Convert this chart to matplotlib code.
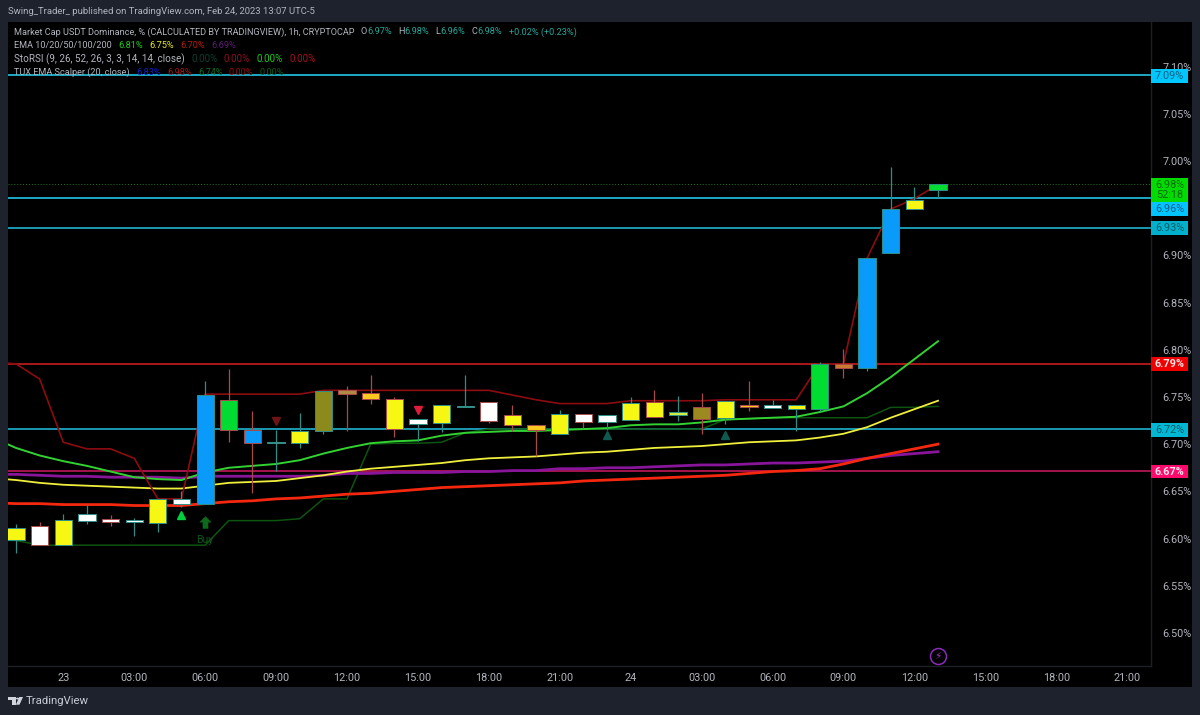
import matplotlib
matplotlib.use("Agg")
import matplotlib.pyplot as plt
from matplotlib.patches import Rectangle, Polygon, Circle

plt.rcParams['font.family'] = ['Roboto', 'DejaVu Sans']

# hours counted from Feb 23 00:00
hours = list(range(-2, 38))
opens = [6.598, 6.613, 6.593, 6.619, 6.621, 6.618, 6.616, 6.637, 6.637, 6.747,
         6.715, 6.701, 6.701, 6.714, 6.757, 6.754, 6.748, 6.721, 6.722, 6.739,
         6.745, 6.731, 6.720, 6.711, 6.732, 6.724, 6.726, 6.745, 6.731, 6.739,
         6.728, 6.742, 6.738, 6.737, 6.737, 6.785, 6.781, 6.902, 6.949, 6.969]
closes = [6.611, 6.593, 6.620, 6.626, 6.618, 6.620, 6.642, 6.642, 6.752, 6.715,
          6.701, 6.702, 6.714, 6.756, 6.753, 6.748, 6.716, 6.727, 6.742, 6.740,
          6.725, 6.720, 6.715, 6.732, 6.724, 6.731, 6.744, 6.729, 6.734, 6.727,
          6.746, 6.739, 6.741, 6.742, 6.785, 6.781, 6.897, 6.949, 6.959, 6.976]
highs = [6.615, 6.618, 6.626, 6.636, 6.625, 6.622, 6.642, 6.650, 6.767, 6.780,
         6.735, 6.715, 6.733, 6.756, 6.762, 6.773, 6.750, 6.727, 6.742, 6.773,
         6.745, 6.741, 6.720, 6.736, 6.732, 6.731, 6.750, 6.757, 6.751, 6.754,
         6.746, 6.767, 6.747, 6.742, 6.787, 6.801, 6.897, 6.994, 6.972, 6.976]
lows = [6.585, 6.593, 6.593, 6.615, 6.613, 6.603, 6.607, 6.633, 6.637, 6.702,
        6.648, 6.672, 6.696, 6.711, 6.714, 6.743, 6.708, 6.703, 6.713, 6.739,
        6.722, 6.714, 6.687, 6.711, 6.717, 6.715, 6.726, 6.729, 6.725, 6.711,
        6.721, 6.735, 6.738, 6.714, 6.735, 6.770, 6.778, 6.902, 6.949, 6.961]
Y = "#f7f714"
W = "#ffffff"
B = "#0a9bfa"
G = "#00dc32"
OL = "#8c8a1c"
OR = "#ffc81e"
body_colors = [Y, W, Y, W, W, W, Y, W, B, G,
               B, W, Y, OL, "#b08a40", OR, Y, W, Y, W,
               W, Y, OR, Y, W, W, Y, Y, "#d0ee40", "#9c8a20",
               Y, OR, W, Y, G, "#c87a30", B, B, Y, G]

# indicator lines start one hour earlier, off the left edge
line_hours = list(range(-3, 38))
ema_green = [6.707, 6.696, 6.688, 6.682, 6.677, 6.671, 6.665, 6.663, 6.662, 6.670, 6.675,
             6.677, 6.679, 6.683, 6.690, 6.696, 6.701, 6.703, 6.704, 6.709, 6.712,
             6.713, 6.714, 6.714, 6.715, 6.716, 6.717, 6.720, 6.721, 6.721, 6.723,
             6.726, 6.727, 6.728, 6.729, 6.734, 6.740, 6.754, 6.771, 6.790, 6.809]
ema_yellow = [6.664, 6.662, 6.659, 6.657, 6.656, 6.655, 6.654, 6.653, 6.653, 6.656, 6.659,
              6.660, 6.661, 6.664, 6.667, 6.671, 6.674, 6.676, 6.678, 6.680, 6.683,
              6.685, 6.686, 6.687, 6.689, 6.691, 6.692, 6.694, 6.696, 6.697, 6.698,
              6.700, 6.702, 6.703, 6.704, 6.707, 6.711, 6.718, 6.728, 6.737, 6.746]
ema_red = [6.638, 6.637, 6.637, 6.636, 6.636, 6.636, 6.635, 6.635, 6.635, 6.637, 6.639,
           6.640, 6.642, 6.643, 6.645, 6.647, 6.648, 6.650, 6.652, 6.654, 6.655,
           6.656, 6.657, 6.658, 6.659, 6.661, 6.662, 6.663, 6.664, 6.665, 6.666,
           6.667, 6.669, 6.671, 6.672, 6.674, 6.679, 6.685, 6.690, 6.695, 6.700]
ema_purple = [6.668, 6.668, 6.667, 6.666, 6.666, 6.665, 6.665, 6.665, 6.664, 6.666, 6.666,
              6.666, 6.666, 6.666, 6.667, 6.669, 6.669, 6.670, 6.670, 6.670, 6.671,
              6.671, 6.672, 6.672, 6.674, 6.674, 6.675, 6.675, 6.676, 6.677, 6.678,
              6.678, 6.679, 6.680, 6.680, 6.681, 6.682, 6.685, 6.688, 6.690, 6.692]
tux_upper = [6.787, 6.785, 6.769, 6.702, 6.695, 6.695, 6.685, 6.642, 6.642, 6.753, 6.753,
             6.753, 6.753, 6.753, 6.757, 6.757, 6.757, 6.757, 6.757, 6.757, 6.757,
             6.757, 6.752, 6.747, 6.743, 6.743, 6.743, 6.746, 6.746, 6.746, 6.746,
             6.747, 6.747, 6.747, 6.747, 6.785, 6.785, 6.897, 6.949, 6.960, 6.975]
tux_lower = [6.598, 6.598, 6.593, 6.593, 6.593, 6.593, 6.593, 6.593, 6.593, 6.593, 6.619,
             6.619, 6.619, 6.621, 6.642, 6.642, 6.700, 6.701, 6.701, 6.702, 6.712,
             6.716, 6.716, 6.716, 6.716, 6.716, 6.716, 6.716, 6.716, 6.716, 6.716,
             6.726, 6.727, 6.728, 6.728, 6.728, 6.728, 6.728, 6.739, 6.739, 6.740]

levels = [7.091, 6.961, 6.929, 6.785, 6.716, 6.672]
level_colors = ["#22c4e4", "#22c4e4", "#1fb4d0", "#c81e1e", "#1fb4d0", "#c2185b"]
# labels: text, price of the box centre, box colour, text colour
label_texts = ["7.09%", "6.96%", "6.93%", "6.79%", "6.72%", "6.67%"]
label_prices = [7.090, 6.949, 6.929, 6.785, 6.715, 6.671]
label_boxes = ["#00c8ff", "#00c4ff", "#00b0cc", "#ee0000", "#00b8d4", "#ff0a6c"]
label_inks = ["#0d5f80", "#0d5f80", "#0a5a68", "#f4e4e4", "#0a5a68", "#f8e4ec"]

# 6.95% sits under the 6.96% label on the original, so it is left out
y_ticks = [7.10, 7.05, 7.00, 6.90, 6.85, 6.80, 6.75, 6.70, 6.65, 6.60, 6.55, 6.50]
x_ticks = [0, 3, 6, 9, 12, 15, 18, 21, 24, 27, 30, 33, 36, 39, 42, 45]
x_labels = ["23", "03:00", "06:00", "09:00", "12:00", "15:00", "18:00", "21:00",
            "24", "03:00", "06:00", "09:00", "12:00", "15:00", "18:00", "21:00"]

legend_rows = [
    [("Market Cap USDT Dominance, % (CALCULATED BY TRADINGVIEW), 1h, CRYPTOCAP  ", "#b2b5be"),
     ("O", "#b2b5be"), ("6.97%  ", "#26a69a"), ("H", "#b2b5be"), ("6.98%  ", "#26a69a"),
     ("L", "#b2b5be"), ("6.96%  ", "#26a69a"), ("C", "#b2b5be"), ("6.98%  ", "#26a69a"),
     ("+0.02% (+0.23%)", "#26a69a")],
    [("EMA 10/20/50/100/200  ", "#b2b5be"), ("6.81%  ", "#1fc81f"), ("6.75%  ", "#e8e81e"),
     ("6.70%  ", "#b01c10"), ("6.69%", "#5e1a78")],
    [("StoRSI (9, 26, 52, 26, 3, 3, 14, 14, close)  ", "#b2b5be"), ("0.00%  ", "#0f3d30"),
     ("0.00%  ", "#8a1020"), ("0.00%  ", "#1fc81f"), ("0.00%", "#a01020")],
    [("TUX EMA Scalper (20, close)  ", "#b2b5be"), ("6.83%  ", "#1020c0"), ("6.98%  ", "#a01818"),
     ("6.74%  ", "#0f6a20"), ("0.00%  ", "#8a1010"), ("0.00%", "#0f5a1a")],
]
legend_sizes = [6.55, 6.6, 7.1, 6.6]

WIDTH, HEIGHT = 1200, 715

def px(x, y):
    return x / WIDTH, 1 - y / HEIGHT

def figRect(x0, y0, x1, y1, color):
    fig.patches.append(Rectangle(px(x0, y1), (x1 - x0) / WIDTH, (y1 - y0) / HEIGHT,
                                 transform=fig.transFigure, color=color, lw=0, zorder=0))

def chainText(x, y, parts, size):
    renderer = fig.canvas.get_renderer()
    for s, color in parts:
        # trailing blanks are not measured, so add the gap by hand
        t = fig.text(*px(x, y), s.rstrip(), color=color, fontsize=size, va="center", ha="left", zorder=20)
        x = t.get_window_extent(renderer).x1 + (len(s) - len(s.rstrip())) * 3.2

fig = plt.figure(figsize=(12, 7.15), dpi=100, facecolor="#1e222d")
figRect(8, 22, 1192, 687, "#000000")

ax = fig.add_axes([8 / WIDTH, 1 - 666 / HEIGHT, 1143 / WIDTH, 644 / HEIGHT], facecolor="#000000", zorder=2)
ax.set_xlim(-2.339, 46.01)
ax.set_ylim(6.4650, 7.1472)

for level, color in zip(levels, level_colors):
    ax.axhline(level, color=color, lw=1.2, zorder=1)
ax.axhline(6.976, color="#1f7a1f", lw=0.7, ls=(0, (1, 2)), zorder=1)

ax.plot(line_hours, tux_lower, color="#0d5410", lw=1.1, zorder=2)
ax.plot(line_hours, ema_purple, color="#88159a", lw=2.0, zorder=2)
ax.plot(line_hours, ema_red, color="#f5280f", lw=2.0, zorder=2)
ax.plot(line_hours, ema_yellow, color="#f0f03c", lw=1.3, zorder=2)
ax.plot(line_hours, ema_green, color="#32d232", lw=1.4, zorder=2)
ax.plot(line_hours, tux_upper, color="#8c0c10", lw=1.2, zorder=2)

for h, o, c, hi, lo, col in zip(hours, opens, closes, highs, lows, body_colors):
    edge = "#2f8f88" if c >= o else "#a84a4a"
    ax.vlines(h, lo, hi, color=edge, lw=0.9, zorder=3)
    ax.bar(h, max(abs(c - o), 0.0012), bottom=min(o, c), width=0.73, color=col,
           edgecolor=edge, linewidth=0.7, zorder=4)

# signal markers
arrow = [(-1, 0), (0, 1), (1, 0), (0.45, 0), (0.45, -1), (-0.45, -1), (-0.45, 0)]
ax.plot([5], [6.625], marker="^", ms=6, color="#00d040", ls="none", zorder=5)
ax.plot([9], [6.725], marker="v", ms=5.5, color="#6e1414", ls="none", zorder=5)
ax.plot([15], [6.736], marker="v", ms=5.5, color="#e01c3c", ls="none", zorder=5)
ax.plot([23, 28], [6.710, 6.710], marker="^", ms=5.5, color="#0f5a50", ls="none", zorder=5)
ax.plot([6], [6.618], marker=arrow, ms=9, color="#0d6a1a", mew=0, ls="none", zorder=5)
ax.text(6, 6.599, "Buy", color="#0d5a18", fontsize=7.5, ha="center", va="center", zorder=5)

# lightning badge near the bottom of the chart
ax.plot([37], [6.4755], marker="o", ms=11.5, mfc="#000000", mec="#8a2cb8", mew=1.1, ls="none", zorder=5)
ax.text(37, 6.4755, "\u26a1", color="#9c32d0", fontsize=7.5, ha="center", va="center", family="DejaVu Sans", zorder=6)

ax.yaxis.tick_right()
ax.set_yticks(y_ticks)
ax.set_yticklabels(["%.2f%%" % v for v in y_ticks])
ax.set_xticks(x_ticks)
ax.set_xticklabels(x_labels)
ax.tick_params(axis="y", length=0, pad=8, labelsize=7.8, labelcolor="#b2b5be")
ax.tick_params(axis="x", length=0, pad=5, labelsize=7.8, labelcolor="#b2b5be")
for name in ["top", "left"]:
    ax.spines[name].set_visible(False)
for name in ["right", "bottom"]:
    ax.spines[name].set_color("#1c1f24")
    ax.spines[name].set_linewidth(1.0)

# price labels in the right hand scale
trans = ax.get_yaxis_transform()
box_w = 37 / 1143
box_h = 13.4 * 0.0010593
for s, p, bg, ink in zip(label_texts, label_prices, label_boxes, label_inks):
    ax.add_patch(Rectangle((1.0, p - box_h / 2), box_w, box_h, transform=trans, color=bg, lw=0,
                           clip_on=False, zorder=10))
    weight = "bold" if s in ("6.79%", "6.67%") else "normal"
    ax.text(1.0 + box_w / 2, p, s, transform=trans, color=ink, fontsize=7.8, weight=weight,
            ha="center", va="center", clip_on=False, zorder=11)

last_top = 6.9815
ax.add_patch(Rectangle((1.0, 6.9563), box_w, last_top - 6.9563, transform=trans, color="#00dc00", lw=0,
                       clip_on=False, zorder=10))
ax.text(1.0 + box_w / 2, 6.9745, "6.98%", transform=trans, color="#0a6a0a", fontsize=7.8,
        ha="center", va="center", clip_on=False, zorder=11)
ax.text(1.0 + box_w / 2, 6.9635, "52:18", transform=trans, color="#0a6a0a", fontsize=7.8,
        ha="center", va="center", clip_on=False, zorder=11)

# header and legend
fig.text(*px(8, 11), "Swing_Trader_ published on TradingView.com, Feb 24, 2023 13:07 UTC-5",
         color="#b2b5be", fontsize=6.8, va="center", ha="left")
for row, y, size in zip(legend_rows, [32, 45.5, 59, 72.5], legend_sizes):
    chainText(14, y, row, size)

# TradingView mark and name
fig.patches.append(Polygon([px(8, 697), px(15.5, 697), px(15.5, 704.7), px(12, 704.7), px(12, 700.2), px(8, 700.2)],
                           transform=fig.transFigure, color="#d1d4dc", lw=0))
fig.patches.append(Circle(px(17.6, 698.6), 1.6 / WIDTH, transform=fig.transFigure, color="#d1d4dc", lw=0))
fig.patches.append(Polygon([px(19.5, 704.7), px(15.8, 704.7), px(19.3, 697), px(23, 697)],
                           transform=fig.transFigure, color="#d1d4dc", lw=0))
fig.text(*px(26, 701.5), "TradingView", color="#c8ccd4", fontsize=8.2, va="center", ha="left")

fig.savefig("out.png", dpi=100, facecolor=fig.get_facecolor())
